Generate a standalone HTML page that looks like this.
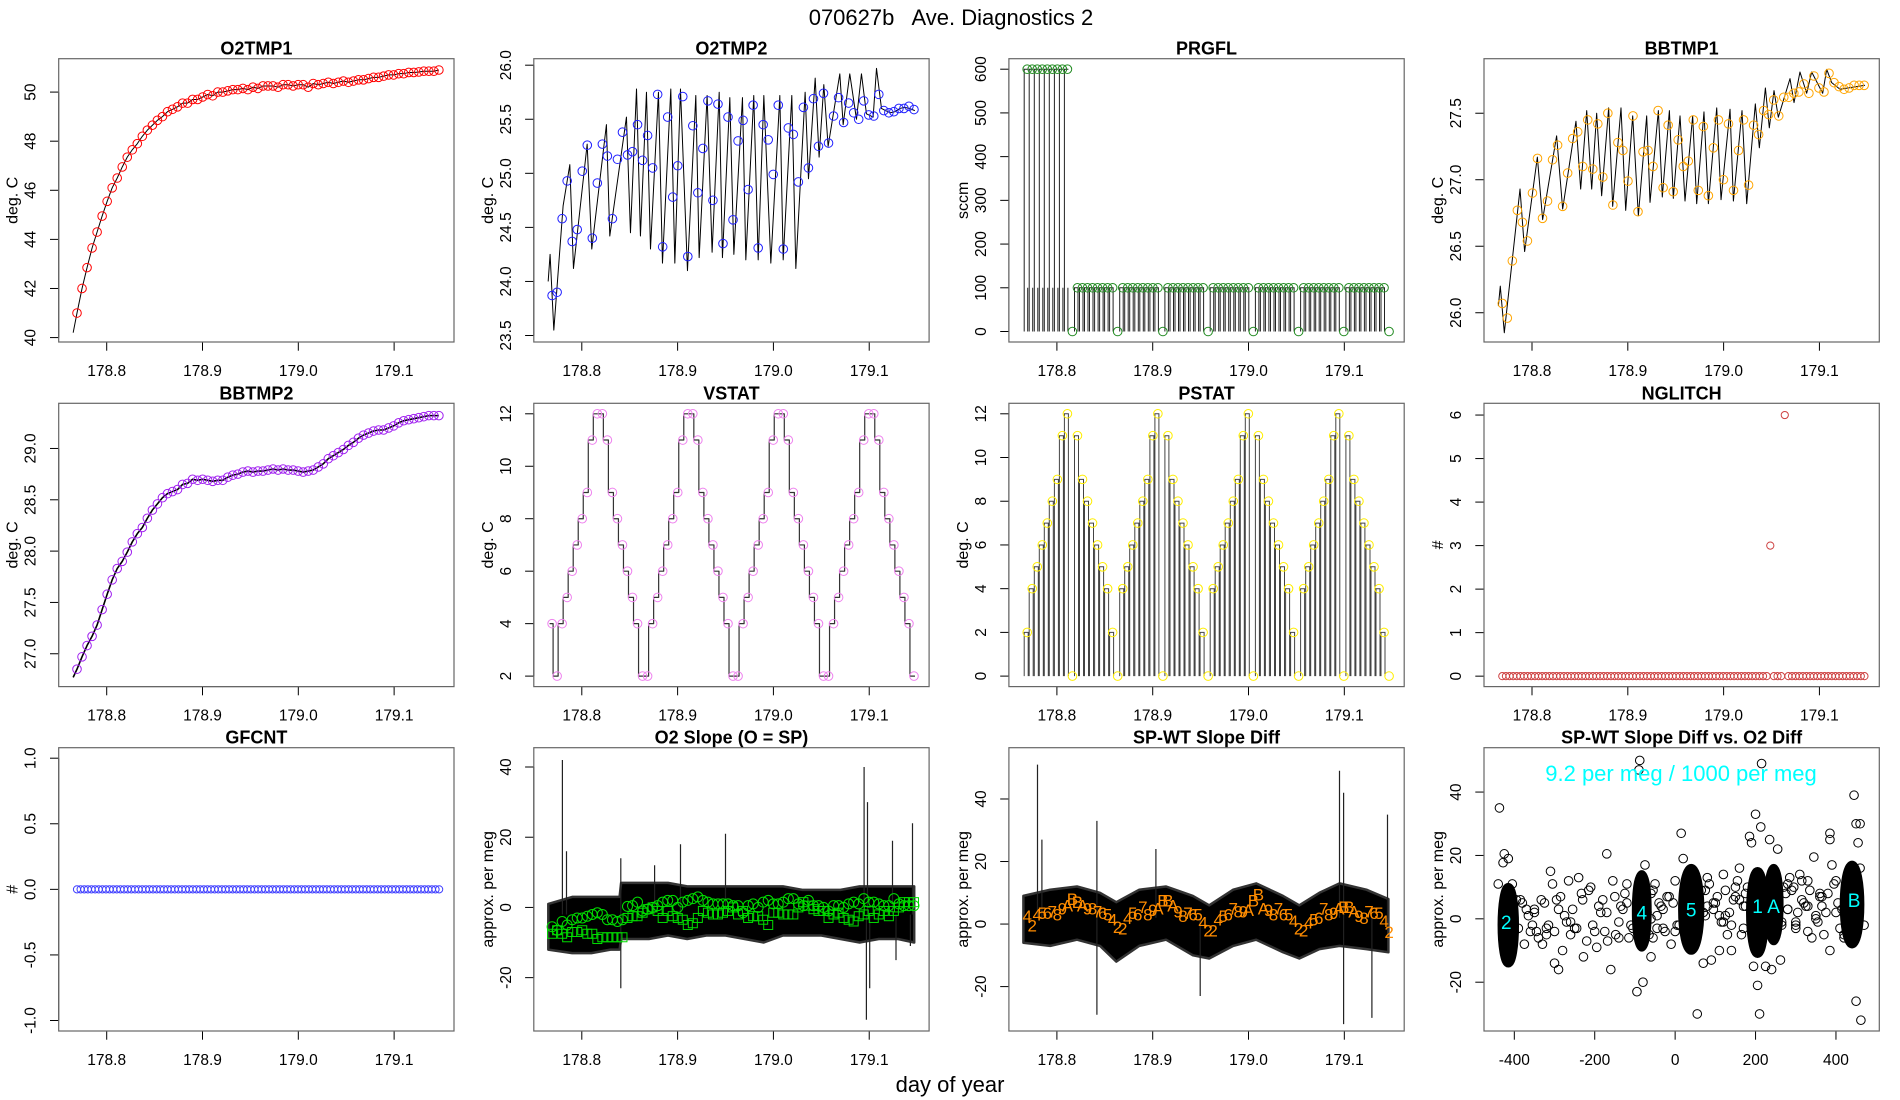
<!DOCTYPE html>
<html><head><meta charset="utf-8"><title>070627b Ave. Diagnostics 2</title>
<style>
html,body{margin:0;padding:0;background:#fff;}
svg{display:block;font-family:"Liberation Sans",Arial,sans-serif;}
</style></head>
<body>
<svg id="chart" xmlns="http://www.w3.org/2000/svg" width="1900" height="1100" viewBox="0 0 1900 1100">
<rect width="1900" height="1100" fill="#fff"/>
<text x="951" y="25" font-size="22" text-anchor="middle" xml:space="preserve">070627b   Ave. Diagnostics 2</text>
<text x="950" y="1092" font-size="22" text-anchor="middle">day of year</text>
</svg>
<script>
// ---------- data ----------
const T0 = 178.769, DT = 0.005246;
const timeTicks = [178.8, 178.9, 179.0, 179.1];
const timeTickLabels = ["178.8", "178.9", "179.0", "179.1"];

const o2tmp1Vals = [41.0,42.0,42.85,43.65,44.3,44.95,45.55,46.1,46.5,46.95,47.35,47.65,47.9,48.2,48.45,48.65,48.85,49.0,49.2,49.3,49.4,49.55,49.55,49.7,49.7,49.8,49.9,49.85,50.0,50.0,50.05,50.1,50.1,50.15,50.1,50.2,50.15,50.25,50.25,50.25,50.2,50.3,50.3,50.25,50.3,50.3,50.2,50.35,50.3,50.35,50.4,50.35,50.4,50.45,50.4,50.45,50.5,50.5,50.55,50.6,50.6,50.65,50.7,50.7,50.75,50.75,50.8,50.8,50.82,50.85,50.85,50.85,50.9];
const o2tmp1Start = [178.765, 40.2];

const o2tmp2Vals = [23.87,23.9,24.58,24.93,24.37,24.48,25.02,25.26,24.4,24.91,25.27,25.16,24.58,25.13,25.38,25.17,25.2,25.45,25.12,25.35,25.05,25.73,24.32,25.52,24.78,25.07,25.71,24.23,25.44,24.82,25.23,25.67,24.75,25.64,24.35,25.52,24.57,25.3,25.49,24.85,25.63,24.31,25.45,25.31,24.99,25.63,24.3,25.42,25.36,24.92,25.61,25.05,25.69,25.25,25.74,25.28,25.53,25.7,25.47,25.65,25.56,25.5,25.67,25.54,25.53,25.73,25.58,25.56,25.57,25.6,25.6,25.62,25.59];
const o2tmp2LineT = [178.7649,178.7669,178.7708,178.7805,178.7875,178.7913,178.8056,178.8104,178.8257,178.8292,178.8466,178.8508,178.8571,178.8612,178.8675,178.8717,178.8800,178.8842,178.8929,178.8971,178.9030,178.9103,178.9190,178.9225,178.9308,178.9360,178.9434,178.9468,178.9545,178.9587,178.9677,178.9712,178.9795,178.9841,178.9900,178.9973,179.0067,179.0102,179.0192,179.0234,179.0331,179.0366,179.0436,179.0477,179.0526,179.0571,179.0693,179.0728,179.0797,179.0867,179.0919,179.0971,179.1041,179.1076,179.1128,179.117,179.122,179.127,179.132,179.137,179.142,179.1476];
const o2tmp2LineV = [24.0,24.25,23.55,24.7,25.08,24.12,25.27,24.3,25.45,24.42,25.52,24.45,25.78,24.42,25.75,24.3,25.75,24.17,25.78,24.17,25.78,24.1,25.72,24.22,25.72,24.27,25.75,24.22,25.7,24.25,25.7,24.2,25.72,24.2,25.72,24.17,25.72,24.2,25.72,24.12,25.75,24.95,25.88,25.15,25.82,25.25,25.92,25.45,25.92,25.5,25.92,25.55,25.52,25.97,25.6,25.58,25.56,25.57,25.6,25.61,25.6,25.58];

const prgflVals = [600,600,600,600,600,600,600,600,600,0,100,100,100,100,100,100,100,100,0,100,100,100,100,100,100,100,100,0,100,100,100,100,100,100,100,100,0,100,100,100,100,100,100,100,100,0,100,100,100,100,100,100,100,100,0,100,100,100,100,100,100,100,100,0,100,100,100,100,100,100,100,100,0];

const bbtmp1Vals = [26.07,25.96,26.39,26.77,26.68,26.54,26.9,27.16,26.71,26.84,27.15,27.26,26.8,27.05,27.31,27.36,27.1,27.45,27.08,27.42,27.02,27.5,26.81,27.28,27.22,26.99,27.48,26.76,27.21,27.22,27.1,27.52,26.94,27.41,26.91,27.3,27.1,27.14,27.45,26.92,27.4,26.88,27.24,27.45,27.0,27.42,26.92,27.22,27.45,26.96,27.41,27.34,27.52,27.49,27.6,27.48,27.62,27.62,27.65,27.66,27.72,27.65,27.78,27.69,27.66,27.8,27.73,27.7,27.68,27.69,27.71,27.71,27.71];
const bbtmp1LineT = [178.7649,178.7669,178.7711,178.7875,178.7923,178.8056,178.8111,178.8257,178.8320,178.8459,178.8508,178.8571,178.8623,178.8675,178.8727,178.8800,178.8842,178.8929,178.8978,178.9051,178.9110,178.9197,178.9232,178.9319,178.9360,178.9434,178.9475,178.9545,178.9597,178.9677,178.9719,178.9795,178.9841,178.9928,178.9973,179.0067,179.0102,179.0192,179.0241,179.0331,179.0373,179.0436,179.0477,179.0526,179.0571,179.0693,179.0735,179.0797,179.0867,179.0919,179.1034,179.1076,179.1128,179.1215,179.1476];
const bbtmp1LineV = [26.05,26.2,25.85,26.93,26.46,27.17,26.7,27.33,26.78,27.44,26.93,27.52,26.93,27.5,26.88,27.54,26.8,27.54,26.77,27.48,26.73,27.48,26.83,27.52,26.87,27.52,26.86,27.48,26.84,27.48,26.82,27.51,26.82,27.54,26.85,27.53,26.84,27.52,26.82,27.57,27.24,27.69,27.39,27.67,27.47,27.76,27.58,27.81,27.65,27.81,27.65,27.83,27.73,27.68,27.71];

const bbtmp2Vals = [26.85,26.97,27.08,27.17,27.28,27.43,27.58,27.72,27.83,27.9,27.99,28.09,28.17,28.23,28.32,28.4,28.46,28.52,28.56,28.58,28.6,28.65,28.66,28.7,28.69,28.7,28.69,28.68,28.69,28.69,28.72,28.74,28.75,28.77,28.78,28.77,28.78,28.78,28.79,28.8,28.79,28.8,28.79,28.79,28.78,28.77,28.78,28.79,28.82,28.85,28.9,28.93,28.96,28.99,29.03,29.06,29.1,29.13,29.15,29.17,29.18,29.18,29.2,29.22,29.25,29.27,29.28,29.29,29.3,29.31,29.32,29.32,29.32];
const bbtmp2Start = [178.765, 26.77];

const vstatVals = [4,2,4,5,6,7,8,9,11,12,12,11,9,8,7,6,5,4,2,2,4,5,6,7,8,9,11,12,12,11,9,8,7,6,5,4,2,2,4,5,6,7,8,9,11,12,12,11,9,8,7,6,5,4,2,2,4,5,6,7,8,9,11,12,12,11,9,8,7,6,5,4,2];
const pstatVals = [2,4,5,6,7,8,9,11,12,0,11,9,8,7,6,5,4,2,0,4,5,6,7,8,9,11,12,0,11,9,8,7,6,5,4,2,0,4,5,6,7,8,9,11,12,0,11,9,8,7,6,5,4,2,0,4,5,6,7,8,9,11,12,0,11,9,8,7,6,5,4,2,0];

const NG_T0 = 178.769, NG_DT = 0.00378;
const nglitchVals = [0,0,0,0,0,0,0,0,0,0,0,0,0,0,0,0,0,0,0,0,0,0,0,0,0,0,0,0,0,0,0,0,0,0,0,0,0,0,0,0,0,0,0,0,0,0,0,0,0,0,0,0,0,0,0,0,0,0,0,0,0,0,0,0,0,0,0,0,0,0,0,0,0,0,3,0,0,0,6,0,0,0,0,0,0,0,0,0,0,0,0,0,0,0,0,0,0,0,0,0,0];
const gfcntVals = [0,0,0,0,0,0,0,0,0,0,0,0,0,0,0,0,0,0,0,0,0,0,0,0,0,0,0,0,0,0,0,0,0,0,0,0,0,0,0,0,0,0,0,0,0,0,0,0,0,0,0,0,0,0,0,0,0,0,0,0,0,0,0,0,0,0,0,0,0,0,0,0,0,0,0,0,0,0,0,0,0,0,0,0,0,0,0,0,0,0,0,0,0,0,0,0,0,0,0,0,0];

// O2 slope
const o2bandT = [178.765,178.79,178.81,178.83,178.8395,178.841,178.87,178.89,178.91,178.93,178.95,178.97,178.99,179.01,179.03,179.05,179.07,179.09,179.11,179.13,179.147];
const o2bandHi = [1,3,3,3,3,7,7,7,6,6,6,6,6,6,5,5,5,6,6,6,6];
const o2bandLo = [-12,-13,-13,-12,-12,-9,-9,-8,-9,-8,-8,-9,-10,-8,-8,-8,-9,-10,-9,-9,-10];
const o2spikeT = [178.7798,178.784,178.8407,178.8407,178.876,178.903,178.95,179.0947,179.0982,179.0971,179.1005,179.1243,179.1452,179.128,179.143];
const o2spikeV = [42,16,-23,14,12,18,21,40,30,-32,-23,19,24,-15,-11];
const o2circVals = [-5.5,-6.5,-4,-5,-3.5,-3,-3,-2.5,-2,-1.5,-2,-3.5,-3.5,-4,-3.5,0.3,0.5,1.5,-1,-0.5,0,0.5,1.5,2,2,0,1.5,2,2.5,3,2,1.5,1,1,1,1,0.5,0.5,-1.5,0.5,1,0,1.5,2,1,1,1.5,2.5,2.5,1,0.5,2,0.5,0.5,0,-1,0.5,0.5,0,1,1.5,1,2.5,1.5,1.5,1,0.5,0.5,2.5,1,0.5,0.5,0.5];
const o2sqVals = [-7.5,-6.5,-7.5,-8.5,-7,-7,-6.5,-7.5,-7.5,-9,-8.5,-8.5,-8.5,-8.5,-8.5,-3,-2.5,-2.5,-1.5,-0.5,0,-1,-3,-1,-2.5,-3,-3.5,-5,-4.5,-3,-1,-1.5,-2,-2,-1.5,-1,0,-2,-1,-3,-2.5,-2.5,-3.5,-5,-1.5,-1.5,-2,-2,-2,0,1.5,0.5,-0.5,-1,-1,-3,-2,-1.5,-3,-3.5,-4,-2.5,-2,-1,-3,-2,-1,-2.5,-1,0,1.5,1.5,1.5];

// SP-WT slope diff
const spbandT = [178.765,178.793,178.821,178.845,178.862,178.886,178.914,178.942,178.959,178.984,179.008,179.036,179.053,179.074,179.095,179.123,179.146];
const spbandHi = [9,11,12,10,7,11,12,9,6,11,13,9,6,10,13,11,8];
const spbandLo = [-6,-7,-5,-7,-12,-7,-5,-10,-11,-7,-5,-9,-11,-8,-7,-8,-9];
const spspikeT = [178.7798,178.7843,178.8418,178.8418,178.9033,178.9496,179.095,179.0992,179.0992,179.1288,179.1451];
const spspikeV = [51,27,33,-29,24,-23,49,42,-32,-30,35];
const spLabelVals = [2.5,-0.5,3,3.5,3.5,4,3,5,6,8,7,6,5,5,4,3.5,3,1.5,-1,-1.5,2,3.5,3,5.5,3,4.5,5,7.5,7.5,6,4,2.5,3.5,3,3,0.5,-2,-2,1.5,2.5,3,5,4,4,4.5,7.5,9.5,5,4.5,3,5,3,3,1,-1.5,-2,0.5,1.5,2,5,3,3.5,5,5.5,5.5,4,2.5,2,4,3.5,3.5,1,-2.5];

// scatter
const clusterX = [-415,-83,40,205,245,440];
const clusterHalfW = [16,14,22,18,14,20];
const clusterTop = [10,14,16,15,16,17];
const clusterBot = [-14,-9,-10,-11,-7,-8];
const scatX = [-437,-425,-415,-428,-440,-405,-380,-370,-355,-345,-333,-330,-320,-310,-305,-300,-290,-285,-280,-275,-265,-260,-250,-240,-233,-228,-220,-210,-205,-195,-190,-180,-170,-168,-160,-155,-148,-140,-130,-120,-115,-110,-95,-80,-75,-60,-50,-40,-30,-20,-10,0,5,15,20,55,70,80,90,100,110,120,130,140,150,160,170,185,190,195,200,205,210,213,225,235,240,255,262,270,285,300,310,320,330,345,350,360,370,385,385,385,390,400,410,420,445,450,455,460,450,462,470,460,-90,-88,215,-350,-320,-290,-260,-230,-200,-170,-140,-120,-60,-30,0,80,110,140,160,280,300,330,360,380,400,-45,95,125,175,265,290,315,340,365,
 -390,-385,-375,-365,-360,-350,-340,-325,-315,-300,-295,-270,-255,-245,-215,-185,-175,-150,-135,-125,-105,-70,-65,-55,-45,-35,-25,-15,-5,10,65,75,85,95,105,115,125,135,145,155,165,175,180,190,225,265,275,280,295,305,315,325,335,355,365,375,395,405,415,420,-400,-395,-60,-55,70,75,120,150,170,280,300,330,350,370,400];
const scatY = [35,20.5,19,17.7,11,11,5,3,-2,-4,6,-8,-3,15,11,-14,-16,7,-10,1,12,-5,-3,13,8,-12,-7,10,-2,-9,4,6,20.5,-7,-16,12,-5,-1,3,11,-6,-2,-23,-20,17,-12,11,5,-3,7,-8,12,-2,27,19,-30,-14,13,-13,5,-10,14,-5,-10,10,16,-3,26,24,-15,33,-21,-30,29,-15,25,-16,22,-13,10,13,-3,14,5,-4,19.5,0,8,-5,27,25,-10,17,12,-3,-6,39,30,24,30,-26,-32,-2,16,47,50,49,2,-5,3,-1,6,-4,2,-6,5,0,3,-4,4,1,-2,6,3,-1,4,7,8,2,-3,5,1,4,-2,9,6,
 -6,4,-3,6,-8,1,-4,3,-6,5,-2,-4,6,-1,3,-3,9,2,-4,7,4,8,-3,2,-5,9,1,4,-4,7,5,-2,9,1,11,3,7,-1,9,2,6,12,-5,8,10,1,6,-1,8,3,10,2,12,4,9,-1,7,2,11,5,3,-5,-4,6,8,-6,2,9,-1,7,4,11,-2,12,1];
const cyanLabelX = [-420,-83,40,205,245,445];
const cyanLabelY = [-1,2,3,4,4,6];
const cyanLabelText = ["2","4","5","1","A","B"];

// ---------- drawing ----------
const NS = 'http://www.w3.org/2000/svg';
const svg = document.getElementById('chart');
function mk(tag, attrs, parent) {
  const e = document.createElementNS(NS, tag);
  for (const k in attrs) e.setAttribute(k, attrs[k]);
  (parent || svg).appendChild(e);
  return e;
}
function lin(d0, d1, r0, r1) { return v => r0 + (v - d0) / (d1 - d0) * (r1 - r0); }
const COLX = [58.7, 533.8, 1008.9, 1484], ROWY = [58.7, 403.3, 747.7], PW = 395.3, PH = 283.3;
const TXLIM = [178.7499, 179.1625];
const tOf = i => T0 + i * DT;
const ngT = i => NG_T0 + i * NG_DT;

function panel(name, col, row, title, ylab, ylim, yticks, ylabels, xlim, xticks, xlabels) {
  const L = COLX[col], T = ROWY[row], R = L + PW, B = T + PH;
  const g = mk('g', {});
  
  
  const sx = lin(xlim[0], xlim[1], L, R), sy = lin(ylim[0], ylim[1], B, T);
  const tt = mk('text', {x: (L + R) / 2, y: T - 4, 'font-size': 18, 'font-weight': 'bold', 'text-anchor': 'middle'}, g);
  tt.textContent = title;
  
  
  const yl = mk('text', {x: 0, y: 0, 'font-size': 16, 'text-anchor': 'middle', transform: `translate(${L - 41},${(T + B) / 2}) rotate(-90)`}, g);
  yl.textContent = ylab;
  
  
  const plot = mk('g', {}, g);
  
  
  const clipId = 'clip-' + name;
  const cp = mk('clipPath', {id: clipId}, g);
  mk('rect', {x: L, y: T, width: PW, height: PH}, cp);
  plot.setAttribute('clip-path', `url(#${clipId})`);
  const ax = mk('g', {stroke: '#000', 'stroke-width': 1, fill: 'none'}, g);
  
  
  mk('line', {x1: sx(xticks[0]), x2: sx(xticks[xticks.length - 1]), y1: B, y2: B}, ax);
  mk('line', {y1: sy(yticks[0]), y2: sy(yticks[yticks.length - 1]), x1: L, x2: L}, ax);
  xticks.forEach((v, i) => {
    mk('line', {x1: sx(v), x2: sx(v), y1: B, y2: B + 8.7}, ax);
    const t = mk('text', {x: sx(v), y: B + 34, 'font-size': 15.5, 'text-anchor': 'middle', fill: '#000', stroke: 'none'}, g);
    t.textContent = xlabels[i];
    
    
  });
  yticks.forEach((v, i) => {
    mk('line', {y1: sy(v), y2: sy(v), x1: L, x2: L - 8.7}, ax);
    const t = mk('text', {x: 0, y: 0, 'font-size': 15.5, 'text-anchor': 'middle', transform: `translate(${L - 23},${sy(v)}) rotate(-90)`}, g);
    t.textContent = ylabels[i];
    
    
  });
  const box = mk('rect', {x: L, y: T, width: PW, height: PH, fill: 'none', stroke: '#666', 'stroke-width': 1.2}, g);
  
  
  return {plot, sx, sy, L, T, R, B};
}
function polyline(p, pts, name, color, w) {
  const d = pts.map((q, i) => (i ? 'L' : 'M') + q[0].toFixed(2) + ',' + q[1].toFixed(2)).join('');
  const e = mk('path', {d, fill: 'none', stroke: color || '#000', 'stroke-width': w || 1, 'stroke-linejoin': 'round'}, p.plot);
  
  
  return e;
}
function circles(p, xs, ys, color, name, r) {
  const g = mk('g', {fill: 'none', stroke: color, 'stroke-width': 1}, p.plot);
  
  
  xs.forEach((x, i) => {
    const c = mk('circle', {cx: p.sx(x), cy: p.sy(ys[i]), r: r || 4.3}, g);
    
    
  });
}
function band(p, ts, hi, lo, name) {
  const pts = ts.map((t, i) => [p.sx(t), p.sy(hi[i])]).concat(ts.map((t, i) => [p.sx(t), p.sy(lo[i])]).reverse());
  const e = mk('path', {d: 'M' + pts.map(q => q[0].toFixed(1) + ',' + q[1].toFixed(1)).join('L') + 'Z', fill: '#000', stroke: '#333', 'stroke-width': 2.5, 'stroke-linejoin': 'round'}, p.plot);
  
  
}
function spikes(p, ts, vs, base, name) {
  const d = ts.map((t, i) => `M${p.sx(t).toFixed(1)},${p.sy(base).toFixed(1)}L${p.sx(t).toFixed(1)},${p.sy(vs[i]).toFixed(1)}`).join('');
  const e = mk('path', {d, stroke: '#222', 'stroke-width': 1.2, fill: 'none'}, p.plot);
  
  
}
const idx = a => a.map((_, i) => tOf(i));

// 1 O2TMP1
let p = panel('o2tmp1', 0, 0, 'O2TMP1', 'deg. C', [39.82, 51.36], [40,42,44,46,48,50], ['40','42','44','46','48','50'], TXLIM, timeTicks, timeTickLabels);
polyline(p, [[p.sx(o2tmp1Start[0]), p.sy(o2tmp1Start[1])]].concat(o2tmp1Vals.map((v, i) => [p.sx(tOf(i)), p.sy(v)])), 'o2tmp1-line');
circles(p, idx(o2tmp1Vals), o2tmp1Vals, '#ff0000', 'o2tmp1-points');

// 2 O2TMP2
p = panel('o2tmp2', 1, 0, 'O2TMP2', 'deg. C', [23.44, 26.06], [23.5,24,24.5,25,25.5,26], ['23.5','24.0','24.5','25.0','25.5','26.0'], TXLIM, timeTicks, timeTickLabels);
polyline(p, o2tmp2LineT.map((t, i) => [p.sx(t), p.sy(o2tmp2LineV[i])]), 'o2tmp2-line');
circles(p, idx(o2tmp2Vals), o2tmp2Vals, '#2020ff', 'o2tmp2-points');

// 3 PRGFL
p = panel('prgfl', 2, 0, 'PRGFL', 'sccm', [-24, 624], [0,100,200,300,400,500,600], ['0','100','200','300','400','500','600'], TXLIM, timeTicks, timeTickLabels);
{
  let d = '';
  const y0 = p.sy(0);
  prgflVals.forEach((v, i) => {
    const x = p.sx(tOf(i));
    if (v > 0) d += `M${(x - 3).toFixed(1)},${y0}L${(x - 3).toFixed(1)},${p.sy(v).toFixed(1)}L${(x + 1).toFixed(1)},${p.sy(v).toFixed(1)}M${(x + 0.5).toFixed(1)},${p.sy(Math.min(v, 100)).toFixed(1)}L${(x + 0.5).toFixed(1)},${y0}`;
  });
  const e = mk('path', {d, stroke: '#222', 'stroke-width': 1, fill: 'none'}, p.plot);
  
  
}
circles(p, idx(prgflVals), prgflVals, '#228b22', 'prgfl-points');

// 4 BBTMP1
p = panel('bbtmp1', 3, 0, 'BBTMP1', 'deg. C', [25.78, 27.91], [26,26.5,27,27.5], ['26.0','26.5','27.0','27.5'], TXLIM, timeTicks, timeTickLabels);
polyline(p, bbtmp1LineT.map((t, i) => [p.sx(t), p.sy(bbtmp1LineV[i])]), 'bbtmp1-line');
circles(p, idx(bbtmp1Vals), bbtmp1Vals, '#ffa500', 'bbtmp1-points');

// 5 BBTMP2
p = panel('bbtmp2', 0, 1, 'BBTMP2', 'deg. C', [26.68, 29.44], [27,27.5,28,28.5,29], ['27.0','27.5','28.0','28.5','29.0'], TXLIM, timeTicks, timeTickLabels);
polyline(p, [[p.sx(bbtmp2Start[0]), p.sy(bbtmp2Start[1])]].concat(bbtmp2Vals.map((v, i) => [p.sx(tOf(i)), p.sy(v)])), 'bbtmp2-line', '#000', 1.6);
circles(p, idx(bbtmp2Vals), bbtmp2Vals, '#a020f0', 'bbtmp2-points');

// 6 VSTAT
p = panel('vstat', 1, 1, 'VSTAT', 'deg. C', [1.6, 12.4], [2,4,6,8,10,12], ['2','4','6','8','10','12'], TXLIM, timeTicks, timeTickLabels);
{
  const pts = [];
  vstatVals.forEach((v, i) => {
    const xa = p.sx(tOf(i) - 0.8 * DT), xb = p.sx(tOf(i) + 0.2 * DT);
    pts.push([i === 0 ? p.sx(tOf(0) - 0.5 * DT) : xa, p.sy(v)]);
    pts.push([xb, p.sy(v)]);
  });
  polyline(p, pts, 'vstat-line', '#333', 1.2);
}
circles(p, idx(vstatVals), vstatVals, '#ee82ee', 'vstat-points');

// 7 PSTAT
p = panel('pstat', 2, 1, 'PSTAT', 'deg. C', [-0.48, 12.48], [0,2,4,6,8,10,12], ['0','2','4','6','8','10','12'], TXLIM, timeTicks, timeTickLabels);
{
  let d = '';
  const y0 = p.sy(0);
  pstatVals.forEach((v, i) => {
    const x = p.sx(tOf(i));
    if (v > 0) d += `M${(x - 3).toFixed(1)},${y0}L${(x - 3).toFixed(1)},${p.sy(v).toFixed(1)}L${(x + 1).toFixed(1)},${p.sy(v).toFixed(1)}L${(x + 1).toFixed(1)},${y0}`;
  });
  const e = mk('path', {d, stroke: '#444', 'stroke-width': 1, fill: 'none'}, p.plot);
  
  
}
circles(p, idx(pstatVals), pstatVals, '#ffee00', 'pstat-points');

// 8 NGLITCH
p = panel('nglitch', 3, 1, 'NGLITCH', '#', [-0.24, 6.27], [0,1,2,3,4,5,6], ['0','1','2','3','4','5','6'], TXLIM, timeTicks, timeTickLabels);
circles(p, nglitchVals.map((_, i) => ngT(i)), nglitchVals, '#cd4040', 'nglitch-points', 3.6);

// 9 GFCNT
p = panel('gfcnt', 0, 2, 'GFCNT', '#', [-1.08, 1.08], [-1,-0.5,0,0.5,1], ['-1.0','-0.5','0.0','0.5','1.0'], TXLIM, timeTicks, timeTickLabels);
circles(p, gfcntVals.map((_, i) => ngT(i)), gfcntVals, '#4040ff', 'gfcnt-points', 3.6);

// 10 O2 Slope
p = panel('o2slope', 1, 2, 'O2 Slope (O = SP)', 'approx. per meg', [-35.2, 45.5], [-20,0,20,40], ['-20','0','20','40'], TXLIM, timeTicks, timeTickLabels);
band(p, o2bandT, o2bandHi, o2bandLo, 'o2slope-noise-band');
spikes(p, o2spikeT, o2spikeV, -2, 'o2slope-spikes');
circles(p, idx(o2circVals), o2circVals, '#00dd00', 'o2slope-circles', 5);
{
  const g = mk('g', {fill: 'none', stroke: '#00dd00', 'stroke-width': 1}, p.plot);
  
  
  o2sqVals.forEach((v, i) => {
    const r = mk('rect', {x: p.sx(tOf(i)) - 4.5, y: p.sy(v) - 4.5, width: 9, height: 9}, g);
    
    
  });
}

// 11 SP-WT Slope Diff
p = panel('spwt', 2, 2, 'SP-WT Slope Diff', 'approx. per meg', [-34.2, 56.4], [-20,0,20,40], ['-20','0','20','40'], TXLIM, timeTicks, timeTickLabels);
band(p, spbandT, spbandHi, spbandLo, 'spwt-noise-band');
spikes(p, spspikeT, spspikeV, 2, 'spwt-spikes');
{
  const g = mk('g', {fill: '#ff8c00', 'font-size': 17, 'text-anchor': 'middle'}, p.plot);
  
  
  spLabelVals.forEach((v, i) => {
    const s = vstatVals[i] > 9 ? (vstatVals[i] === 11 ? 'A' : 'B') : String(vstatVals[i]);
    const t = mk('text', {x: p.sx(tOf(i)), y: p.sy(v) + 6}, g);
    t.textContent = s;
    
    
  });
}

// 12 scatter
p = panel('scatter', 3, 2, 'SP-WT Slope Diff vs. O2 Diff', 'approx. per meg', [-35.4, 54], [-20,0,20,40], ['-20','0','20','40'], [-475.4, 507.8], [-400,-200,0,200,400], ['-400','-200','0','200','400']);
circles(p, scatX, scatY, '#000', 'scatter-points', 4.3);
{
  const g = mk('g', {fill: '#000', stroke: '#000', 'stroke-width': 8.6}, p.plot);
  
  
  clusterX.forEach((cx, i) => {
    const x0 = p.sx(cx - clusterHalfW[i]), x1 = p.sx(cx + clusterHalfW[i]);
    const yT = p.sy(clusterTop[i]), yB = p.sy(clusterBot[i]);
    const e = mk('ellipse', {cx: (x0 + x1) / 2, cy: (yT + yB) / 2, rx: (x1 - x0) / 2, ry: (yB - yT) / 2}, g);
    
    
  });
}
{
  const g = mk('g', {fill: '#00ffff', 'font-size': 19, 'text-anchor': 'middle'}, p.plot);
  
  
  cyanLabelX.forEach((x, i) => {
    const t = mk('text', {x: p.sx(x), y: p.sy(cyanLabelY[i]) + 7}, g);
    t.textContent = cyanLabelText[i];
    
    
  });
  const a = mk('text', {x: 1681, y: 781, 'font-size': 22, fill: '#00ffff', 'text-anchor': 'middle'}, p.plot);
  a.textContent = '9.2 per meg / 1000 per meg';
  
  
}
</script>
</body></html>
